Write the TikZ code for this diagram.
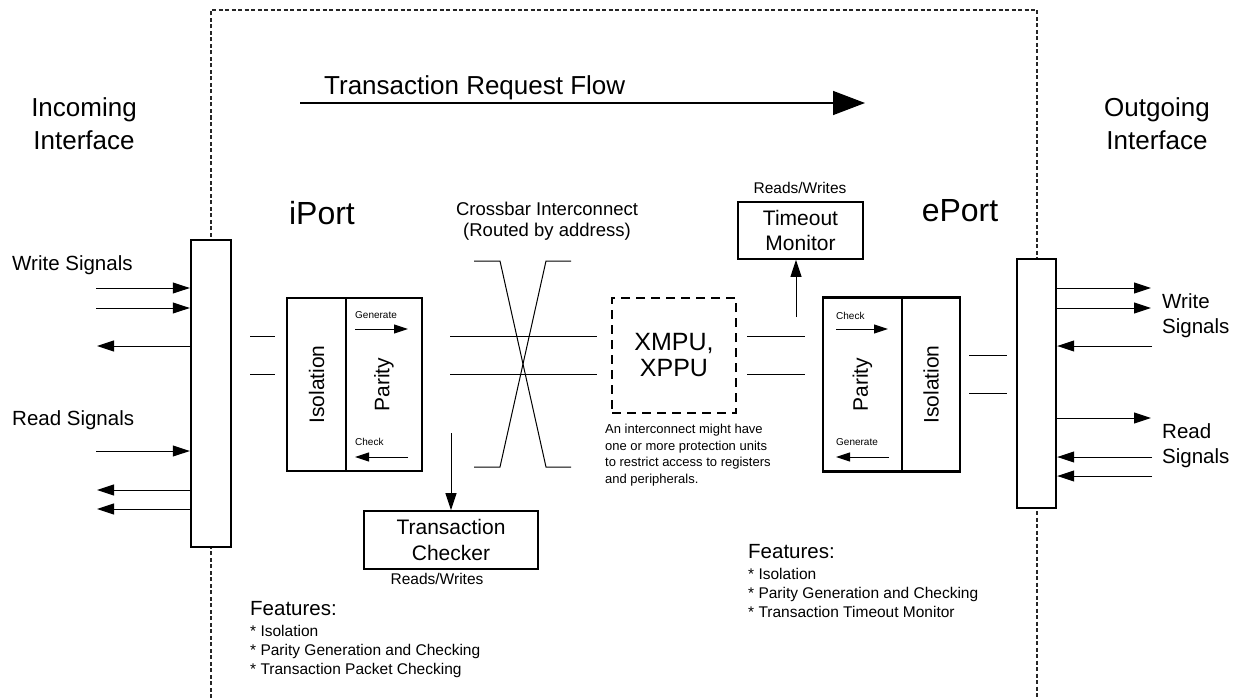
\documentclass[tikz,border=0pt]{standalone}
\usepackage{fontspec}
\setmainfont{Liberation Sans}
\usetikzlibrary{arrows.meta}
\newcommand\fz[2]{\fontsize{#1pt}{#2pt}\selectfont}
\tikzset{
  box/.style={draw, line width=2.4pt, fill=white, inner sep=0pt},
  thinline/.style={line width=1pt},
  sig/.style={line width=1pt, -{Triangle[length=17pt,width=11pt]}},
  par/.style={line width=1pt, -{Triangle[length=14pt,width=9pt]}},
  txt/.style={inner sep=0pt, align=center},
  ltxt/.style={inner sep=0pt, align=left, anchor=west},
  frame/.style={line width=1.2pt, draw=black!85, dash pattern=on 4pt off 2.5pt},
}
\begin{document}
\begin{tikzpicture}[x=1pt,y=-1pt]
\useasboundingbox (0,0) rectangle (1243,698);
% outer dashed frame
\draw[frame] (211,698) -- (211,10) -- (1037,10) -- (1037,698);

% flow arrow
\node[ltxt, font=\fz{26}{30}] (flowtxt) at (324,88) {Transaction Request Flow};
\coordinate (flowa) at (300,103);
\coordinate (flowb) at (865,103);
\draw[line width=1.5pt, -{Triangle[length=32pt,width=24pt]}] (flowa) -- (flowb);

% interface titles
\node[txt, font=\fz{26}{33}] (inif) at (84,123.5) {Incoming\\Interface};
\node[txt, font=\fz{26}{33}] (outif) at (1157,123.5) {Outgoing\\Interface};

% port titles
\node[txt, font=\fz{32}{36}] (iport) at (322,213) {iPort};
\node[txt, font=\fz{32}{36}] (eport) at (960,211) {ePort};

% crossbar label
\node[txt, font=\fz{18.5}{21}] (xbtxt) at (547,221.5) {Crossbar Interconnect\\(Routed by address)};

% left interface box
\node[box, minimum width=40pt, minimum height=307pt] (lbox) at (211,393.5) {};
% right interface box
\node[box, minimum width=39pt, minimum height=249pt] (rbox) at (1036.5,383.5) {};

% left signal labels
\node[ltxt, font=\fz{20.5}{25}] (lwtxt) at (12,265) {Write Signals};
\node[ltxt, font=\fz{20.5}{25}] (lrtxt) at (12,420) {Read Signals};

% left signal arrows
\coordinate (lw1) at (96,288);
\coordinate (lw2) at (96,308);
\coordinate (lw3) at (97,346);
\coordinate (lr1) at (96,451);
\coordinate (lr2) at (97,490);
\coordinate (lr3) at (97,509);
\draw[sig] (lw1) -- (lw1 -| lbox.west);
\draw[sig] (lw2) -- (lw2 -| lbox.west);
\draw[sig] (lw3 -| lbox.west) -- (lw3);
\draw[sig] (lr1) -- (lr1 -| lbox.west);
\draw[sig] (lr2 -| lbox.west) -- (lr2);
\draw[sig] (lr3 -| lbox.west) -- (lr3);

% right signal labels
\node[ltxt, font=\fz{20.5}{25}] (rwtxt) at (1162,315.5) {Write\\Signals};
\node[ltxt, font=\fz{20.5}{25}] (rrtxt) at (1162,445.5) {Read\\Signals};

% right signal arrows
\coordinate (rw1) at (1151,288);
\coordinate (rw2) at (1151,308);
\coordinate (rw3) at (1152,346);
\coordinate (rr1) at (1151,418);
\coordinate (rr2) at (1152,457);
\coordinate (rr3) at (1152,476);
\draw[sig] (rw1 -| rbox.east) -- (rw1);
\draw[sig] (rw2 -| rbox.east) -- (rw2);
\draw[sig] (rw3) -- (rw3 -| rbox.east);
\draw[sig] (rr1 -| rbox.east) -- (rr1);
\draw[sig] (rr2) -- (rr2 -| rbox.east);
\draw[sig] (rr3) -- (rr3 -| rbox.east);

% stubs left of iPort
\draw[thinline] (250,336) -- (275,336);
\draw[thinline] (250,374) -- (275,374);

% iPort
\node[box, minimum width=59pt, minimum height=173pt] (iiso) at (316.5,384.5) {};
\node[box, minimum width=76pt, minimum height=173pt] (ipar) at (384,384.5) {};
\node[txt, rotate=90, font=\fz{21}{24}] (iisot) at (iiso.center) {Isolation};
\node[txt, rotate=90, font=\fz{21}{24}] (ipart) at (ipar.center) {Parity};
\node[ltxt, font=\fz{10}{12}] (igen) at (355,315) {Generate};
\coordinate (iga) at (355,329);
\coordinate (igb) at (408,329);
\draw[par] (iga) -- (igb);
\node[ltxt, font=\fz{10}{12}] (ichk) at (355,442) {Check};
\coordinate (ica) at (408,457);
\coordinate (icb) at (355,457);
\draw[par] (ica) -- (icb);

% lines iPort -> XMPU
\draw[thinline] (450,336) -- (597,336);
\draw[thinline] (450,374) -- (597,374);

% crossbar
\draw[thinline] (474,261) -- (500,261) -- (546,467) -- (571,467);
\draw[thinline] (571,261) -- (546,261) -- (500,467) -- (474,467);

% transaction checker
\node[box, line width=1.8pt, minimum width=174pt, minimum height=58pt, align=center, font=\fz{21}{26}] (chk) at (451,540) {Transaction\\Checker};
\coordinate (chks) at (451,433);
\draw[sig] (chks) -- (chk.north);
\node[txt, font=\fz{15.5}{18}] (chkrw) at (437,579) {Reads/Writes};

% features left
\node[ltxt, font=\fz{20.5}{24}] (featl) at (250,609) {Features:};
\node[ltxt, font=\fz{15.5}{19}] (featli) at (250,651) {* Isolation\\* Parity Generation and Checking\\* Transaction Packet Checking};

% XMPU
\node[draw, line width=2.4pt, dash pattern=on 9pt off 6pt, minimum width=124pt, minimum height=115pt, inner sep=0pt, align=center, font=\fz{25}{26}] (xmpu) at (674,355.5) {XMPU,\\XPPU};
\node[ltxt, font=\fz{13}{16.7}] (note) at (605,455) {An interconnect might have\\one or more protection units\\to restrict access to registers\\and peripherals.};

% lines XMPU -> ePort
\draw[thinline] (747,336) -- (805,336);
\draw[thinline] (747,374) -- (805,374);

% timeout monitor
\node[box, line width=1.8pt, minimum width=125pt, minimum height=57pt, align=center, font=\fz{21}{25}] (tmo) at (800.5,230.5) {Timeout\\Monitor};
\coordinate (tmos) at (796,317);
\draw[sig] (tmos) -- (tmos |- tmo.south);
\node[txt, font=\fz{15.5}{18}] (tmorw) at (800,188) {Reads/Writes};

% ePort
\node[box, minimum width=79pt, minimum height=174pt] (epar) at (862.5,384.5) {};
\node[box, minimum width=58pt, minimum height=174pt] (eiso) at (931,384.5) {};
\node[txt, rotate=90, font=\fz{21}{24}] (epart) at (epar.center) {Parity};
\node[txt, rotate=90, font=\fz{21}{24}] (eisot) at (eiso.center) {Isolation};
\node[ltxt, font=\fz{10}{12}] (echk) at (836,316) {Check};
\coordinate (eca) at (836,329);
\coordinate (ecb) at (888,329);
\draw[par] (eca) -- (ecb);
\node[ltxt, font=\fz{10}{12}] (egen) at (836,442) {Generate};
\coordinate (ega) at (889,457);
\coordinate (egb) at (836,457);
\draw[par] (ega) -- (egb);

% stubs right of ePort
\draw[thinline] (969,355) -- (1007,355);
\draw[thinline] (969,393) -- (1007,393);

% features right
\node[ltxt, font=\fz{20.5}{24}] (featr) at (748,552) {Features:};
\node[ltxt, font=\fz{15.5}{19}] (featri) at (748,593) {* Isolation\\* Parity Generation and Checking\\* Transaction Timeout Monitor};
\end{tikzpicture}
\end{document}
